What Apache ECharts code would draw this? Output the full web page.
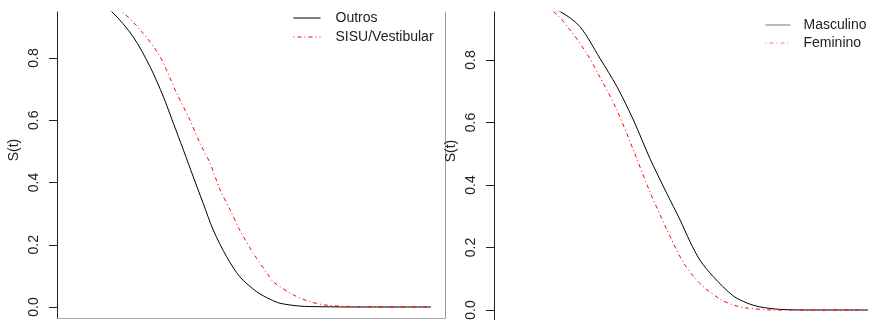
<!DOCTYPE html>
<html>
<head>
<meta charset="utf-8">
<script src="https://cdn.jsdelivr.net/npm/echarts@6/dist/echarts.min.js"></script>
<style>
  html, body { margin: 0; padding: 0; background: #fff; }
  #chart { width: 878px; height: 320px; }
</style>
</head>
<body>
<div id="chart"></div>
<script>
// valores (t em unidades relativas, S(t))
var yTicks = [0, 0.2, 0.4, 0.6, 0.8];

var tOutros = [0, 6, 11.2, 17.2, 21.9, 25.6, 28.4, 31.2, 33.9, 36.7, 39.5, 43.2, 46.9, 51.6, 55.3, 58.1, 63.6, 69.2, 80, 100];
var sOutros = [1, 0.985, 0.949, 0.868, 0.772, 0.676, 0.590, 0.504, 0.419, 0.333, 0.247, 0.162, 0.097, 0.049, 0.025, 0.012, 0.003, 0.001, 0, 0];

var tSisu = [0, 7, 14.0, 20.0, 24.7, 29.3, 33.0, 35.8, 38.6, 41.4, 44.2, 46.9, 50.6, 54.8, 56.2, 61.8, 66.4, 71.1, 80.3, 100];
var sSisu = [1, 0.99, 0.949, 0.879, 0.804, 0.687, 0.601, 0.526, 0.462, 0.376, 0.312, 0.247, 0.173, 0.103, 0.081, 0.039, 0.017, 0.006, 0.001, 0];

var tMasc = [0, 7, 14.4, 19.9, 25.5, 30.2, 34.8, 39.4, 44.1, 47.8, 50.6, 53.3, 57.0, 62.6, 66.5, 70.0, 75.6, 85, 100];
var sMasc = [1, 0.99, 0.955, 0.907, 0.805, 0.715, 0.608, 0.485, 0.373, 0.288, 0.218, 0.160, 0.107, 0.045, 0.022, 0.010, 0.002, 0, 0];

var tFem = [0, 6, 12.5, 17.2, 21.8, 25.5, 30.2, 34.8, 39.4, 44.1, 48.7, 53.3, 58.9, 62.6, 66.0, 73.7, 100];
var sFem = [1, 0.99, 0.955, 0.896, 0.821, 0.745, 0.640, 0.512, 0.378, 0.258, 0.152, 0.085, 0.035, 0.016, 0.007, 0, 0];

function pares(t, s) {
  return t.map(function (v, i) { return [v, s[i]]; });
}

var fonte = 'Liberation Sans, Arial, sans-serif';
var pontilhado = [1, 3, 4, 3];

function eixoY(grid, min, max) {
  return {
    type: 'value', gridIndex: grid, min: min, max: max,
    name: 'S(t)', nameLocation: 'middle', nameGap: 36, nameRotate: 90,
    nameTextStyle: { color: '#222', fontSize: 14, fontFamily: fonte, padding: [0, 0, 0, 30] },
    axisLine: { show: true, onZero: false, lineStyle: { color: '#222', width: 1 } },
    axisTick: { show: true, length: 8, customValues: yTicks, lineStyle: { color: '#222' } },
    axisLabel: {
      customValues: yTicks, rotate: 90, margin: 16,
      color: '#222', fontSize: 14, fontFamily: fonte,
      formatter: function (v) { return v.toFixed(1); }
    },
    splitLine: { show: false }
  };
}

function curva(nome, eixo, t, s, cor, tipo) {
  return {
    name: nome, type: 'line', xAxisIndex: eixo[0], yAxisIndex: eixo[1], data: pares(t, s),
    showSymbol: false, symbol: 'none', smooth: 0.3,
    lineStyle: { color: cor, width: 1, type: tipo }, itemStyle: { color: cor }
  };
}

var option = {
  backgroundColor: '#fff',
  animation: false,
  grid: [
    { left: 57, top: 12, width: 388, bottom: 2, outerBoundsMode: 'none' },
    { left: 494, top: 12, width: 388, bottom: 0, outerBoundsMode: 'none' }
  ],
  xAxis: [
    { type: 'value', gridIndex: 0, min: -4, max: 104,
      axisLine: { show: true, onZero: false, lineStyle: { color: '#aaa' } },
      axisTick: { show: false }, axisLabel: { show: false }, splitLine: { show: false } },
    { type: 'value', gridIndex: 1, min: -4, max: 104,
      axisLine: { show: false }, axisTick: { show: false }, axisLabel: { show: false }, splitLine: { show: false } }
  ],
  yAxis: [
    eixoY(0, -0.0353, 0.9478),
    { type: 'value', gridIndex: 0, position: 'right', min: -0.0353, max: 0.9478,
      axisLine: { show: true, onZero: false, lineStyle: { color: '#999' } },
      axisTick: { show: false }, axisLabel: { show: false }, splitLine: { show: false } },
    eixoY(1, -0.032, 0.9536)
  ],
  legend: [
    { orient: 'vertical', left: 293, top: 11, padding: 0, itemWidth: 27, itemHeight: 14, itemGap: 5,
      itemStyle: { opacity: 0 }, lineStyle: { width: 1 },
      data: ['Outros', 'SISU/Vestibular'],
      textStyle: { color: '#222', fontSize: 14, fontFamily: fonte, padding: [0, 0, 0, 10] } },
    { orient: 'vertical', left: 765, top: 18, padding: 0, itemWidth: 25, itemHeight: 14, itemGap: 4,
      itemStyle: { opacity: 0 }, lineStyle: { width: 1 },
      data: [
        { name: 'Masculino', lineStyle: { color: '#777' } },
        { name: 'Feminino', lineStyle: { color: '#f77' } }
      ],
      textStyle: { color: '#222', fontSize: 14, fontFamily: fonte, padding: [0, 0, 0, 8] } }
  ],
  series: [
    curva('Outros', [0, 0], tOutros, sOutros, '#000', 'solid'),
    curva('SISU/Vestibular', [0, 0], tSisu, sSisu, '#ff0000', pontilhado),
    curva('Masculino', [1, 2], tMasc, sMasc, '#000', 'solid'),
    curva('Feminino', [1, 2], tFem, sFem, '#ff0000', pontilhado)
  ]
};

var chart = echarts.init(document.getElementById('chart'));
chart.setOption(option);
</script>
</body>
</html>
